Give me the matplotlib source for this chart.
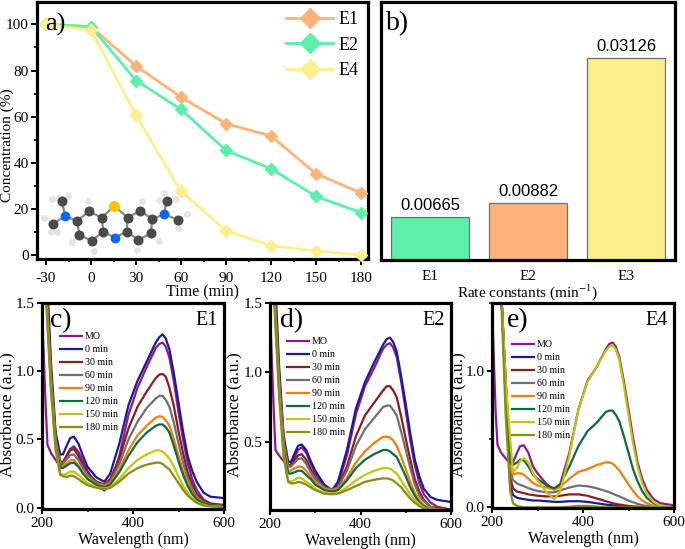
import matplotlib
matplotlib.use("Agg")
import matplotlib.pyplot as plt
from matplotlib.ticker import MultipleLocator

plt.rcParams['font.family'] = ['Liberation Serif', 'DejaVu Serif']
plt.rcParams['mathtext.fontset'] = 'stix'

W, H = 685, 549

# ---- panel a
time_pos = [-30, 0, 30, 60, 90, 120, 150, 180]
time_labels = ['-30', '0', '30', '60', '90', '120', '150', '180']
conc_e1 = [100, 99, 82, 68.5, 57, 51.7, 35.3, 27]
conc_e2 = [100, 99, 75.7, 63.2, 45.4, 37.5, 25.5, 18.5]
conc_e4 = [100, 97.5, 60.6, 27.7, 10.7, 4.2, 1.8, 0.1]
conc_names = ['E1', 'E2', 'E4']

# ---- panel b
rate_cats = ['E1', 'E2', 'E3']
rate_vals = [0.00665, 0.00882, 0.03126]
rate_labels = ['0.00665', '0.00882', '0.03126']

# ---- spectra
wl = [200, 208, 212, 220, 230, 240, 246, 255, 262, 270, 280, 290, 300, 320, 337, 350, 370, 390, 410, 430,
      450, 458, 465, 472, 480, 490, 500, 510, 520, 530, 540, 555, 570, 600]
spec_names = ['MO', '0 min', '30 min', '60 min', '90 min', '120 min', '150 min', '180 min']

c_mo = [1.45, .75, .46, .40, .35, .30, .33, .39, .43, .45, .41, .34, .27, .17, .125, .17, .38, .68, .88, 1.03,
        1.17, 1.20, 1.21, 1.18, 1.10, .92, .70, .50, .33, .21, .13, .06, .03, .01]
c_0 = [1.8, 1.8, 1.62, 1.05, .55, .39, .39, .46, .51, .52, .47, .38, .30, .22, .19, .25, .47, .75, .93, 1.07,
       1.21, 1.25, 1.27, 1.24, 1.16, .98, .77, .56, .38, .27, .19, .11, .08, .07]
c_30 = [1.8, 1.75, 1.5, .98, .52, .34, .33, .38, .42, .43, .38, .31, .25, .19, .17, .21, .36, .58, .74, .85,
        .95, .975, .98, .96, .88, .74, .56, .40, .26, .17, .10, .05, .03, .02]
c_60 = [1.8, 1.7, 1.45, .95, .50, .33, .32, .36, .385, .39, .35, .29, .24, .18, .165, .19, .32, .50, .63, .73,
        .80, .82, .82, .79, .74, .62, .47, .33, .22, .14, .08, .04, .02, .01]
c_90 = [1.8, 1.7, 1.42, .92, .48, .30, .30, .33, .345, .35, .31, .26, .22, .17, .16, .18, .28, .42, .53, .60,
        .66, .67, .665, .64, .60, .50, .38, .27, .18, .11, .07, .03, .02, .01]
c_120 = [1.8, 1.65, 1.40, .90, .46, .29, .29, .31, .325, .33, .30, .25, .21, .165, .15, .17, .26, .38, .48, .55,
         .60, .61, .61, .59, .55, .45, .34, .24, .16, .10, .06, .03, .02, .01]
c_150 = [1.8, 1.62, 1.36, .86, .43, .25, .24, .25, .265, .265, .24, .21, .18, .15, .14, .15, .21, .29, .35, .39,
         .42, .42, .41, .39, .36, .30, .23, .16, .11, .07, .04, .02, .01, .005]
c_180 = [1.8, 1.6, 1.33, .84, .42, .24, .23, .225, .235, .23, .21, .185, .165, .145, .135, .145, .19, .25, .29, .315,
         .33, .33, .32, .30, .28, .23, .18, .13, .09, .06, .035, .015, .01, .005]

d_mo = [1.45, .75, .44, .40, .36, .33, .33, .39, .44, .46, .42, .34, .27, .18, .14, .19, .40, .70, .90, 1.03,
        1.17, 1.20, 1.21, 1.18, 1.11, .93, .72, .51, .33, .20, .12, .06, .03, .01]
d_0 = [1.8, 1.8, 1.62, 1.05, .55, .36, .35, .42, .47, .48, .44, .36, .29, .19, .15, .21, .44, .74, .93, 1.07,
       1.20, 1.24, 1.25, 1.22, 1.15, .97, .77, .56, .37, .25, .16, .10, .08, .065]
d_30 = [1.8, 1.75, 1.5, .98, .52, .33, .33, .37, .40, .41, .37, .30, .24, .17, .15, .18, .32, .54, .69, .78,
        .87, .90, .90, .87, .82, .68, .52, .37, .23, .14, .08, .03, .02, .01]
d_60 = [1.8, 1.7, 1.45, .95, .50, .32, .32, .35, .375, .38, .34, .28, .23, .17, .15, .17, .29, .47, .59, .67,
        .75, .76, .76, .73, .69, .57, .44, .31, .19, .11, .07, .03, .01, .005]
d_90 = [1.8, 1.7, 1.42, .92, .47, .29, .29, .31, .32, .32, .29, .25, .21, .16, .15, .16, .24, .35, .43, .49,
        .535, .535, .53, .51, .47, .39, .30, .21, .13, .08, .04, .02, .01, .005]
d_120 = [1.8, 1.65, 1.40, .90, .45, .27, .27, .28, .29, .29, .26, .23, .19, .15, .14, .15, .22, .31, .37, .41,
         .44, .44, .43, .41, .39, .32, .25, .17, .11, .06, .035, .01, .005, .005]
d_150 = [1.8, 1.62, 1.36, .86, .41, .22, .21, .225, .24, .235, .21, .19, .16, .13, .125, .13, .17, .22, .26, .29,
         .31, .31, .305, .29, .27, .22, .17, .12, .08, .05, .025, .01, .005, .005]
d_180 = [1.8, 1.6, 1.33, .84, .39, .21, .20, .20, .21, .205, .19, .17, .15, .125, .12, .125, .15, .18, .21, .225,
         .235, .235, .23, .22, .20, .17, .13, .09, .06, .035, .02, .01, .005, .005]

e_mo = [1.5, .70, .46, .40, .36, .32, .33, .40, .45, .455, .40, .30, .25, .17, .13, .17, .40, .72, .93, 1.03,
        1.16, 1.20, 1.21, 1.18, 1.10, .92, .72, .51, .33, .21, .13, .06, .03, .015]
e_0 = [1.8, 1.8, 1.8, 1.6, .85, .16, .09, .07, .065, .06, .055, .05, .05, .045, .04, .04, .045, .045, .04, .03,
       .02, .017, .015, .012, .01, .007, .005, .002, 0, 0, 0, 0, 0, 0]
e_30 = [1.8, 1.8, 1.8, 1.6, .88, .22, .14, .115, .11, .105, .095, .09, .085, .08, .08, .085, .095, .095, .085, .065,
        .045, .037, .03, .025, .02, .015, .01, .007, .005, .002, 0, 0, 0, 0]
e_60 = [1.8, 1.8, 1.8, 1.6, .90, .28, .20, .175, .165, .155, .14, .13, .12, .11, .11, .125, .145, .16, .155, .14,
        .12, .11, .10, .09, .08, .065, .05, .037, .025, .015, .01, .005, 0, 0]
e_90 = [1.8, 1.8, 1.8, 1.6, .92, .30, .24, .25, .25, .24, .21, .18, .16, .145, .13, .15, .21, .26, .28, .31,
        .33, .33, .32, .30, .27, .22, .17, .12, .08, .05, .03, .01, 0, 0]
e_120 = [1.8, 1.8, 1.8, 1.6, .95, .33, .31, .33, .35, .345, .30, .24, .21, .16, .14, .17, .30, .45, .56, .62,
         .70, .71, .71, .68, .63, .52, .40, .28, .19, .12, .07, .03, .01, 0]
e_150 = [1.8, 1.8, 1.8, 1.6, .92, .50, .26, .29, .34, .36, .33, .25, .20, .11, .06, .12, .38, .72, .92, 1.03,
         1.15, 1.18, 1.19, 1.16, 1.08, .89, .68, .47, .30, .18, .10, .04, .01, 0]
e_180 = [1.8, 1.8, 1.8, 1.55, .68, .12, .03, .01, .005, 0, 0, 0, 0, 0, 0, 0, .005, .01, .01, .005,
         0, 0, 0, 0, 0, 0, 0, 0, 0, 0, 0, 0, 0, 0]

spec_colors = ['#8B1A8B', '#1A1A9A', '#8E1B1F', '#707070', '#F07D12', '#0E6B3B', '#C4C40E', '#8C8C12']
pal = {'E1': '#FFB27A', 'E2': '#5CF0A8', 'E4': '#FBF08A'}

# ---- molecule inset (units of the inset's own scale)
carbon_x = [80, 53, 126, 162, 200, 205, 170, 133, 278, 316, 352, 347, 310, 275, 395, 430]
carbon_y = [47, 117, 108, 79, 98, 140, 167, 150, 98, 77, 103, 145, 165, 140, 47, 105]
nitrogen_x = [91, 387, 239]
nitrogen_y = [93, 87, 158]
sulfur_x = [238]
sulfur_y = [63]
hydrogen_x = [52, 98, 72, 28, 48, 65, 160, 110, 176, 320, 372, 423, 388, 455, 430, 372, 307]
hydrogen_y = [41, 33, 38, 98, 140, 140, 48, 172, 197, 47, 45, 42, 25, 88, 128, 167, 195]
bond_x0 = [80, 53, 91, 126, 162, 200, 205, 170, 133, 278, 316, 352, 347, 310, 275, 387, 387, 352, 200, 238, 205, 239]
bond_y0 = [47, 117, 93, 108, 79, 98, 140, 167, 150, 98, 77, 103, 145, 165, 140, 87, 87, 103, 98, 63, 140, 158]
bond_x1 = [91, 91, 126, 162, 200, 205, 170, 133, 126, 316, 352, 347, 310, 275, 278, 395, 430, 387, 238, 278, 239, 275]
bond_y1 = [93, 93, 108, 79, 98, 140, 167, 150, 108, 77, 103, 145, 165, 140, 98, 47, 105, 87, 63, 98, 158, 140]


def axes_px(fig, l, t, r, b):
    return fig.add_axes([l / W, 1 - b / H, (r - l) / W, (b - t) / H])


def frame(ax, lw=2.3):
    for s in ax.spines.values():
        s.set_linewidth(lw)


fig = plt.figure(figsize=(W / 100, H / 100), dpi=100, facecolor='white')

# panel a
ax = axes_px(fig, 37, 2, 368, 259)
ax.set_xlim(-36, 184.6)
ax.set_ylim(-1.6, 109.7)
for name, vals in zip(conc_names, [conc_e1, conc_e2, conc_e4]):
    ax.plot(time_pos, vals, color=pal[name], lw=2.0, marker='D', ms=6.6, label=name, clip_on=False, zorder=4)
ax.set_xticks(time_pos)
ax.set_xticklabels(time_labels)
ax.xaxis.set_minor_locator(MultipleLocator(15))
ax.yaxis.set_major_locator(MultipleLocator(20))
ax.yaxis.set_minor_locator(MultipleLocator(10))
ax.tick_params(which='major', labelsize=11, width=1.4, length=4, pad=2)
ax.tick_params(axis='x', which='major', pad=5)
ax.tick_params(which='minor', width=1.2, length=2.5)
ax.set_xlabel('Time (min)', fontsize=11.5, labelpad=0)
ax.set_ylabel('Concentration (%)', fontsize=11)
ax.yaxis.set_label_coords((14 - 37) / 331, (259 - 145) / 257)
frame(ax)
ax.text(-30.3, 100, 'a)', fontsize=19, va='center', ha='left', zorder=6)
leg = ax.legend(loc='upper right', bbox_to_anchor=(1.0, 1.0), frameon=False, fontsize=13,
                handlelength=2.6, markerscale=1.55, labelspacing=0.47, handletextpad=0.3,
                borderaxespad=0.2, borderpad=0.3)

mol = axes_px(fig, 35, 185, 200, 260)
mol.set_xlim(0, 495)
mol.set_ylim(225, 0)
mol.axis('off')
mol.patch.set_alpha(0)
for x0, y0, x1, y1 in zip(bond_x0, bond_y0, bond_x1, bond_y1):
    mol.plot([x0, x1], [y0, y1], color='#8a8a8a', lw=1.6, zorder=1)
mol.scatter(hydrogen_x, hydrogen_y, s=24, color='#e4e4e4', linewidths=0, zorder=2)
mol.scatter(carbon_x, carbon_y, s=52, color='#4a4a4a', linewidths=0, zorder=3)
mol.scatter(nitrogen_x, nitrogen_y, s=50, color='#0A66F5', linewidths=0, zorder=4)
mol.scatter(sulfur_x, sulfur_y, s=62, color='#FFC000', linewidths=0, zorder=4)

# panel b
ax = axes_px(fig, 381, 2, 675, 260)
ax.bar(rate_cats, rate_vals, width=0.8, color=[pal['E2'], pal['E1'], pal['E4']], edgecolor='#707070', linewidth=0.9)
ax.set_xlim(-0.5, 2.5)
ax.set_ylim(0, 0.04)
ax.set_yticks([])
ax.tick_params(axis='x', length=0, labelsize=11, pad=7)
for i, (v, t) in enumerate(zip(rate_vals, rate_labels)):
    ax.text(i, v + 0.0007, t, ha='center', va='bottom', fontsize=12, family='Liberation Sans')
ax.set_xlabel('Rate constants (min$^{-1}$)', fontsize=11, labelpad=-0.5)
frame(ax)
ax.text(-0.45, 0.0366, 'b)', fontsize=20, va='center', ha='left')

# spectra
panels = [
    ((42, 303, 224, 509), (-0.01, 1.5), 'c)', 'E1', [c_mo, c_0, c_30, c_60, c_90, c_120, c_150, c_180], 335.7, [0, .5, 1, 1.5], 15, 0.10, 0.045),
    ((270, 303, 451, 510), (0.007, 1.5), 'd)', 'E2', [d_mo, d_0, d_30, d_60, d_90, d_120, d_150, d_180], 340.7, [.5, 1, 1.5], 242, 0.092, 0.055),
    ((492, 303, 674, 508), (-0.005, 1.5), 'e)', 'E4', [e_mo, e_0, e_30, e_60, e_90, e_120, e_150, e_180], 343.3, [0, 1], 466, 0.11, 0.08),
]
for (l, t, r, b), ylim, tag, nm, series, leg_y, yt, lab_x, leg_x, tag_x in panels:
    ax = axes_px(fig, l, t, r, b)
    for s, col, lab in zip(series, spec_colors, spec_names):
        ax.plot(wl, s, color=col, lw=1.6, label=lab)
    ax.set_xlim(200, 600)
    ax.set_ylim(*ylim)
    ax.set_xticks([200, 400, 600])
    ax.xaxis.set_minor_locator(MultipleLocator(100))
    ax.set_yticks(yt)
    ax.set_yticklabels(['%.1f' % v for v in yt])
    ax.yaxis.set_minor_locator(MultipleLocator(0.5))
    ax.tick_params(which='major', labelsize=11, width=1.4, length=3.5, pad=2)
    ax.tick_params(which='minor', width=1.1, length=2)
    ax.set_xlabel('Wavelength (nm)', fontsize=11.5, labelpad=1.5)
    ax.set_ylabel('Absorbance (a.u.)', fontsize=12.6)
    ax.yaxis.set_label_coords((lab_x - l) / (r - l), (b - 415) / (b - t))
    frame(ax)
    ax.text(tag_x, 0.915, tag, transform=ax.transAxes, fontsize=20, va='center', ha='left')
    ax.text(0.965, 0.915, nm, transform=ax.transAxes, fontsize=14.5, va='center', ha='right')
    ax.legend(loc='upper left', bbox_to_anchor=(leg_x, 1 - (leg_y - 3.3 - t) / (b - t)), frameon=False,
              fontsize=7.2, handlelength=2.2, labelspacing=0.4, handletextpad=0.3, borderpad=0, borderaxespad=0)

fig.savefig('out.png', dpi=100)
